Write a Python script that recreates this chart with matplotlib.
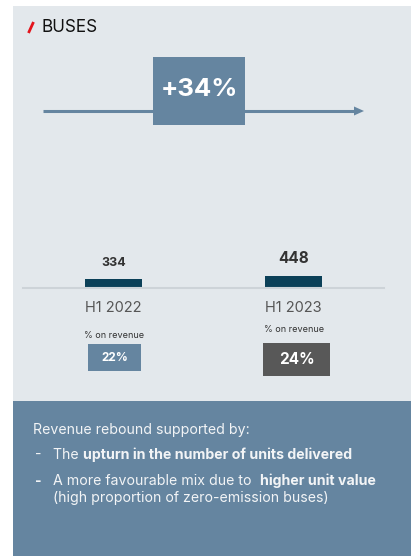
import matplotlib
matplotlib.use("Agg")
import matplotlib.pyplot as plt
from matplotlib.patches import Rectangle

# ---- data ----
categories = ["H1 2022", "H1 2023"]
revenue = [334, 448]
pct_on_revenue = ["22%", "24%"]
growth_label = "+34%"
title = "BUSES"
notes_header = "Revenue rebound supported by:"

W, H = 411, 556
fig = plt.figure(figsize=(W / 100, H / 100), dpi=100)
fig.patch.set_facecolor("white")

bg = fig.add_axes([0, 0, 1, 1])
bg.set_xlim(0, W)
bg.set_ylim(H, 0)
bg.axis("off")

LIGHT = "#e3e8ec"
STEEL = "#6585a0"
DARK = "#0b4058"
GRAY = "#585858"
FONT = ["Inter", "DejaVu Sans"]

bg.add_patch(Rectangle((13, 6), W - 13, 395, color=LIGHT, lw=0))
bg.add_patch(Rectangle((13, 401), W - 13, H - 401, color=STEEL, lw=0))

# title
bg.plot([28.5, 33.5], [33, 22], color="#e3141c", lw=2.0, solid_capstyle="butt")
bg.text(41.5, 28, title, fontsize=12.3, family=FONT, color="#111111", va="center", ha="left")

# growth arrow and box
bg.plot([43, 356], [111, 111], color=STEEL, lw=2.2, solid_capstyle="butt")
bg.fill([354, 364, 354], [106.5, 111, 115.5], color=STEEL, lw=0)
bg.add_patch(Rectangle((153, 57), 92, 68, color=STEEL, lw=0))
bg.text(199, 90, growth_label, fontsize=18.5, fontweight="bold", family=FONT,
        color="white", ha="center", va="center")

# ---- bar axes ----
x0, x1 = 23, 384
base_y = 288
ax_h = 40
ax = fig.add_axes([x0 / W, 1 - base_y / H, (x1 - x0) / W, ax_h / H])
ax.set_facecolor("none")
scale = 0.0275  # px per unit
ax.set_ylim(0, ax_h / scale)
spacing = 180
ax.set_xlim(-(113.5 - x0) / spacing, (x1 - 113.5) / spacing)
xs = list(range(len(categories)))
ax.bar(xs, revenue, width=57 / spacing, color=DARK)
for s in ["top", "right", "left"]:
    ax.spines[s].set_visible(False)
ax.spines["bottom"].set_color("#cdd3d8")
ax.spines["bottom"].set_linewidth(1.5)
ax.set_yticks([])
ax.set_xticks(xs)
ax.set_xticklabels(categories, fontsize=10.5, family=FONT, color="#555555")
ax.tick_params(axis="x", length=0, pad=9)

value_sizes = [9, 11]
for x, v, fs in zip(xs, revenue, value_sizes):
    ax.annotate(str(v), (x, v), xytext=(0, 7), textcoords="offset points",
                ha="center", va="bottom", fontsize=fs, fontweight="bold",
                family=FONT, color="#333333")

# % on revenue labels and boxes
centers = [113.5, 293.5]
lab_y = [335, 330]
boxes = [(88, 344, 53, 27, STEEL, 8.5), (263, 343, 67, 33, GRAY, 11)]
for c, ly, (bx, by, bw, bh, col, fs), txt in zip(centers, lab_y, boxes, pct_on_revenue):
    bg.text(c + 1, ly, "% on revenue", fontsize=6.5, family=FONT, color="#333333",
            ha="center", va="center")
    bg.add_patch(Rectangle((bx, by), bw, bh, color=col, lw=0))
    bg.text(bx + bw / 2, by + bh / 2 + 0.5, txt, fontsize=fs, fontweight="bold",
            family=FONT, color="white", ha="center", va="center")

# notes
TXT = "#f2f4f6"
FS = 10.2
bg.text(33, 430, notes_header, fontsize=FS, family=FONT, color=TXT, va="center")
bg.text(35, 455, "-", fontsize=FS, family=FONT, color=TXT, va="center")
t = bg.text(53, 455, "The ", fontsize=FS, family=FONT, color=TXT, va="center")
fig.canvas.draw()
r = fig.canvas.get_renderer()
w_the = t.get_window_extent(r).width
bg.text(53 + w_the, 455, "upturn in the number of units delivered", fontsize=FS,
        fontweight="bold", family=FONT, color=TXT, va="center")

bg.text(35, 481, "-", fontsize=FS, family=FONT, color=TXT, va="center", fontweight="bold")
t2 = bg.text(53, 481, "A more favourable mix due to  ", fontsize=FS, family=FONT, color=TXT, va="center")
fig.canvas.draw()
w2 = t2.get_window_extent(fig.canvas.get_renderer()).width
bg.text(53 + w2, 481, "higher unit value", fontsize=FS, fontweight="bold",
        family=FONT, color=TXT, va="center")
bg.text(53, 498, "(high proportion of zero-emission buses)", fontsize=FS,
        family=FONT, color=TXT, va="center")

fig.savefig("out.png", dpi=100)
